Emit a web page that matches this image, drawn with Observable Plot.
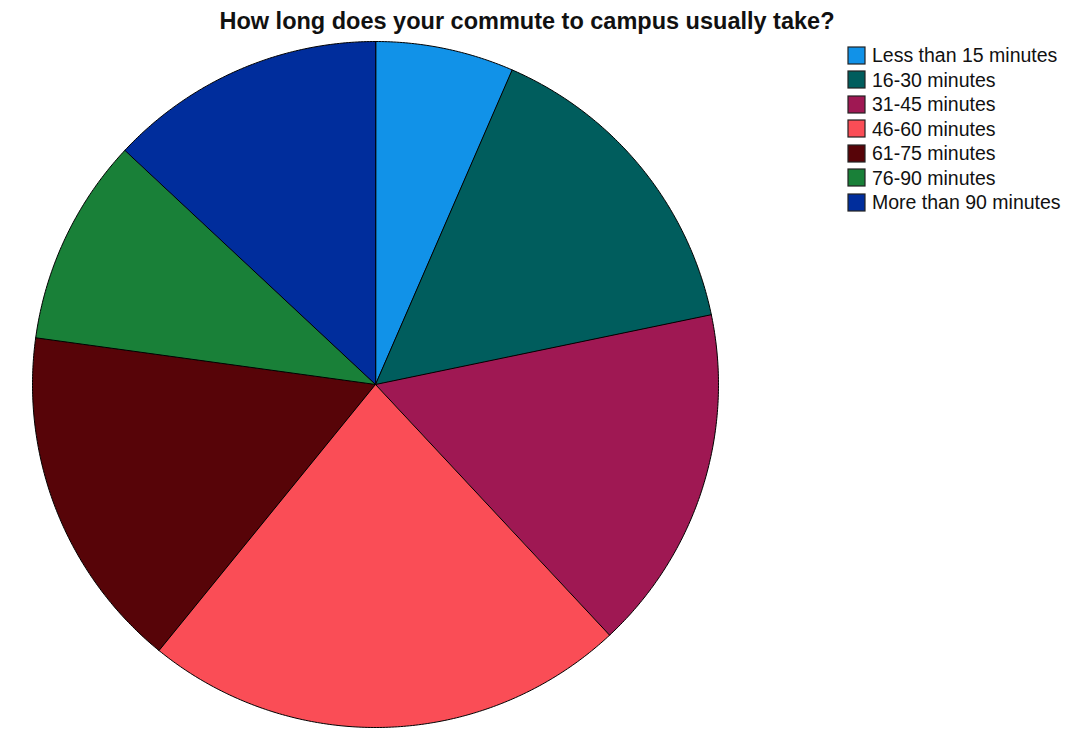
<!DOCTYPE html>
<html>
<head>
<meta charset="utf-8">
<script src="https://cdn.jsdelivr.net/npm/d3@7"></script>
<script src="https://cdn.jsdelivr.net/npm/@observablehq/plot@0.6"></script>
<style>
  html, body { margin: 0; padding: 0; background: #fff; }
  body { width: 1090px; height: 730px; position: relative; overflow: hidden; font-family: "Liberation Sans", Arial, sans-serif; }
  #title { box-sizing: border-box; height: 38px; padding-top: 8px; padding-left: 527px; font-size: 23.5px; line-height: 27px; font-weight: bold; color: #111; white-space: nowrap; }
  #title span { display: inline-block; transform: translateX(-50%); }
  #legend { position: absolute; left: 848px; top: 43px; }
  #legend .lg-swatches { margin: 0 !important; width: 240px; font-family: "Liberation Sans", Arial, sans-serif !important; font-size: 19.5px !important; color: #111; }
  #legend .lg-swatch { height: 24.5px; line-height: 24.5px; padding-bottom: 0 !important; margin: 0 !important; display: flex; align-items: center; }
  #legend .lg-swatch > svg { margin-right: 7px !important; overflow: visible; flex-shrink: 0; }
  #legend .lg-swatch > svg rect { stroke: #222; stroke-width: 1.2px; }
  #chart svg { display: block; }
</style>
</head>
<body>
<div id="title"><span>How long does your commute to campus usually take?</span></div>
<div id="chart"></div>
<div id="legend"></div>
<script>
const categories = [
  "Less than 15 minutes",
  "16-30 minutes",
  "31-45 minutes",
  "46-60 minutes",
  "61-75 minutes",
  "76-90 minutes",
  "More than 90 minutes"
];
const counts = [6, 14, 15, 21, 15, 9, 12];
const colors = ["#1192e8", "#005d5d", "#9f1853", "#fa4d56", "#570408", "#198038", "#002d9c"];

// Build pie slices as planar polygons (clockwise from 12 o'clock) from the data
const arcs = d3.pie().sort(null).value(d => d)(counts);
const features = arcs.map((a, i) => {
  const n = Math.max(2, Math.ceil((a.endAngle - a.startAngle) / (Math.PI / 360)));
  const ring = [[0, 0]];
  for (let k = 0; k <= n; ++k) {
    const t = a.startAngle + (a.endAngle - a.startAngle) * k / n;
    ring.push([Math.sin(t), -Math.cos(t)]);
  }
  ring.push([0, 0]);
  return {type: "Feature", properties: {category: categories[i], count: counts[i]}, geometry: {type: "Polygon", coordinates: [ring]}};
});

const chart = Plot.plot({
  width: 1090,
  height: 692,
  marginLeft: 30,
  marginRight: 370,
  marginTop: 3,
  marginBottom: 3,
  projection: {type: "identity", domain: {type: "MultiPoint", coordinates: [[-1, -1], [1, 1]]}},
  color: {domain: categories, range: colors},
  marks: [
    Plot.geo(features, {fill: d => d.properties.category, stroke: "#000", strokeWidth: 1, strokeLinejoin: "round"})
  ]
});
document.getElementById("chart").append(chart);

const legend = Plot.legend({
  color: {domain: categories, range: colors},
  legend: "swatches",
  columns: 1,
  swatchSize: 17,
  className: "lg"
});
document.getElementById("legend").append(legend);
</script>
</body>
</html>
